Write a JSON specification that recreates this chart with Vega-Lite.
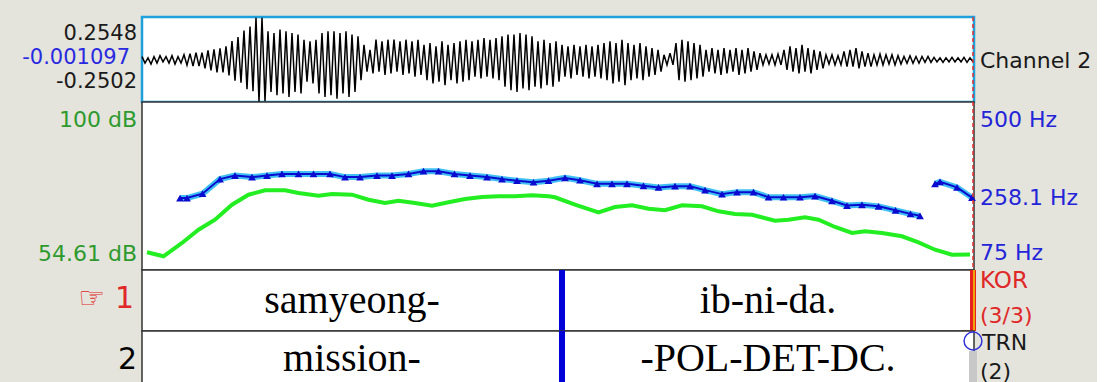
{
  "$schema": "https://vega.github.io/schema/vega-lite/v6.json",
  "background": "#e4e4dc",
  "padding": {"left": 20, "top": 13, "right": 4, "bottom": 0},
  "autosize": {"type": "pad"},
  "bounds": "flush",
  "spacing": 0,
  "config": {
    "view": {"fill": "white", "stroke": "#333333", "strokeWidth": 1.5},
    "text": {"font": "DejaVu Sans"}
  },
  "datasets": {
    "wave": [
      {"t":0,"a":0.019},{"t":0.006,"a":-0.019},{"t":0.012,"a":0.012},{"t":0.018,"a":-0.025},{"t":0.024,"a":0.019},{"t":0.03,"a":-0.019},{"t":0.036,"a":0.025},{"t":0.042,"a":-0.012},{"t":0.048,"a":0.019},{"t":0.054,"a":-0.019},
      {"t":0.06,"a":0.025},{"t":0.066,"a":-0.025},{"t":0.072,"a":0.019},{"t":0.078,"a":-0.019},{"t":0.084,"a":0.031},{"t":0.09,"a":-0.031},{"t":0.096,"a":0.037},{"t":0.102,"a":-0.037},{"t":0.108,"a":0.043},{"t":0.114,"a":-0.037},
      {"t":0.12,"a":0.043},{"t":0.126,"a":-0.05},{"t":0.132,"a":0.056},{"t":0.138,"a":-0.062},{"t":0.144,"a":0.062},{"t":0.15,"a":-0.074},{"t":0.156,"a":0.068},{"t":0.162,"a":-0.074},{"t":0.168,"a":0.081},{"t":0.174,"a":-0.093},
      {"t":0.18,"a":0.112},{"t":0.186,"a":-0.124},{"t":0.192,"a":0.136},{"t":0.198,"a":-0.136},{"t":0.204,"a":0.174},{"t":0.21,"a":-0.174},{"t":0.216,"a":0.198},{"t":0.222,"a":-0.186},{"t":0.228,"a":0.25},{"t":0.234,"a":-0.25},
      {"t":0.24,"a":0.25},{"t":0.246,"a":-0.245},{"t":0.252,"a":0.17},{"t":0.258,"a":-0.19},{"t":0.264,"a":0.16},{"t":0.27,"a":-0.21},{"t":0.276,"a":0.18},{"t":0.282,"a":-0.2},{"t":0.288,"a":0.17},{"t":0.294,"a":-0.22},
      {"t":0.3,"a":0.16},{"t":0.306,"a":-0.19},{"t":0.312,"a":0.15},{"t":0.318,"a":-0.2},{"t":0.324,"a":0.12},{"t":0.33,"a":-0.13},{"t":0.336,"a":0.11},{"t":0.342,"a":-0.14},{"t":0.348,"a":0.12},{"t":0.354,"a":-0.2},
      {"t":0.36,"a":0.16},{"t":0.366,"a":-0.22},{"t":0.372,"a":0.17},{"t":0.378,"a":-0.21},{"t":0.384,"a":0.17},{"t":0.39,"a":-0.23},{"t":0.396,"a":0.16},{"t":0.402,"a":-0.2},{"t":0.408,"a":0.17},{"t":0.414,"a":-0.22},
      {"t":0.42,"a":0.15},{"t":0.426,"a":-0.19},{"t":0.432,"a":0.14},{"t":0.438,"a":-0.12},{"t":0.444,"a":0.09},{"t":0.45,"a":-0.07},{"t":0.456,"a":0.06},{"t":0.462,"a":-0.08},{"t":0.468,"a":0.12},{"t":0.474,"a":-0.07},
      {"t":0.48,"a":0.11},{"t":0.486,"a":-0.09},{"t":0.492,"a":0.12},{"t":0.498,"a":-0.08},{"t":0.504,"a":0.12},{"t":0.51,"a":-0.07},{"t":0.516,"a":0.11},{"t":0.522,"a":-0.09},{"t":0.528,"a":0.12},{"t":0.534,"a":-0.08},
      {"t":0.54,"a":0.11},{"t":0.546,"a":-0.1},{"t":0.552,"a":0.12},{"t":0.558,"a":-0.09},{"t":0.564,"a":0.09},{"t":0.57,"a":-0.12},{"t":0.576,"a":0.1},{"t":0.582,"a":-0.14},{"t":0.588,"a":0.08},{"t":0.594,"a":-0.13},
      {"t":0.6,"a":0.11},{"t":0.606,"a":-0.15},{"t":0.612,"a":0.09},{"t":0.618,"a":-0.12},{"t":0.624,"a":0.1},{"t":0.63,"a":-0.14},{"t":0.636,"a":0.11},{"t":0.642,"a":-0.13},{"t":0.648,"a":0.12},{"t":0.654,"a":-0.12},
      {"t":0.66,"a":0.11},{"t":0.666,"a":-0.1},{"t":0.672,"a":0.12},{"t":0.678,"a":-0.11},{"t":0.684,"a":0.13},{"t":0.69,"a":-0.1},{"t":0.696,"a":0.12},{"t":0.702,"a":-0.11},{"t":0.708,"a":0.13},{"t":0.714,"a":-0.12},
      {"t":0.72,"a":0.14},{"t":0.726,"a":-0.16},{"t":0.732,"a":0.15},{"t":0.738,"a":-0.18},{"t":0.744,"a":0.15},{"t":0.75,"a":-0.19},{"t":0.756,"a":0.16},{"t":0.762,"a":-0.17},{"t":0.768,"a":0.15},{"t":0.774,"a":-0.18},
      {"t":0.78,"a":0.14},{"t":0.786,"a":-0.16},{"t":0.792,"a":0.11},{"t":0.798,"a":-0.17},{"t":0.804,"a":0.12},{"t":0.81,"a":-0.15},{"t":0.816,"a":0.1},{"t":0.822,"a":-0.16},{"t":0.828,"a":0.11},{"t":0.834,"a":-0.13},
      {"t":0.84,"a":0.09},{"t":0.846,"a":-0.1},{"t":0.852,"a":0.08},{"t":0.858,"a":-0.11},{"t":0.864,"a":0.09},{"t":0.87,"a":-0.09},{"t":0.876,"a":0.08},{"t":0.882,"a":-0.1},{"t":0.888,"a":0.09},{"t":0.894,"a":-0.11},
      {"t":0.9,"a":0.08},{"t":0.906,"a":-0.1},{"t":0.912,"a":0.09},{"t":0.918,"a":-0.11},{"t":0.924,"a":0.1},{"t":0.93,"a":-0.12},{"t":0.936,"a":0.11},{"t":0.942,"a":-0.14},{"t":0.948,"a":0.1},{"t":0.954,"a":-0.13},
      {"t":0.96,"a":0.12},{"t":0.966,"a":-0.15},{"t":0.972,"a":0.1},{"t":0.978,"a":-0.12},{"t":0.984,"a":0.09},{"t":0.99,"a":-0.11},{"t":0.996,"a":0.1},{"t":1.002,"a":-0.12},{"t":1.008,"a":0.08},{"t":1.014,"a":-0.1},
      {"t":1.02,"a":0.07},{"t":1.026,"a":-0.09},{"t":1.032,"a":0.06},{"t":1.038,"a":-0.07},{"t":1.044,"a":0.03},{"t":1.05,"a":-0.03},{"t":1.056,"a":0.04},{"t":1.062,"a":-0.03},{"t":1.068,"a":0.1},{"t":1.074,"a":-0.12},
      {"t":1.08,"a":0.12},{"t":1.086,"a":-0.13},{"t":1.092,"a":0.11},{"t":1.098,"a":-0.12},{"t":1.104,"a":0.1},{"t":1.11,"a":-0.11},{"t":1.116,"a":0.09},{"t":1.122,"a":-0.1},{"t":1.128,"a":0.06},{"t":1.134,"a":-0.07},
      {"t":1.14,"a":0.07},{"t":1.146,"a":-0.08},{"t":1.152,"a":0.06},{"t":1.158,"a":-0.09},{"t":1.164,"a":0.07},{"t":1.17,"a":-0.08},{"t":1.176,"a":0.06},{"t":1.182,"a":-0.07},{"t":1.188,"a":0.07},{"t":1.194,"a":-0.09},
      {"t":1.2,"a":0.06},{"t":1.206,"a":-0.08},{"t":1.212,"a":0.07},{"t":1.218,"a":-0.07},{"t":1.224,"a":0.05},{"t":1.23,"a":-0.06},{"t":1.236,"a":0.04},{"t":1.242,"a":-0.03},{"t":1.248,"a":0.03},{"t":1.254,"a":-0.025},
      {"t":1.26,"a":0.03},{"t":1.266,"a":-0.03},{"t":1.272,"a":0.035},{"t":1.278,"a":-0.03},{"t":1.284,"a":0.06},{"t":1.29,"a":-0.06},{"t":1.296,"a":0.08},{"t":1.302,"a":-0.07},{"t":1.308,"a":0.07},{"t":1.314,"a":-0.08},
      {"t":1.32,"a":0.09},{"t":1.326,"a":-0.07},{"t":1.332,"a":0.07},{"t":1.338,"a":-0.08},{"t":1.344,"a":0.06},{"t":1.35,"a":-0.06},{"t":1.356,"a":0.05},{"t":1.362,"a":-0.05},{"t":1.368,"a":0.03},{"t":1.374,"a":-0.025},
      {"t":1.38,"a":0.03},{"t":1.386,"a":-0.03},{"t":1.392,"a":0.025},{"t":1.398,"a":-0.03},{"t":1.404,"a":0.05},{"t":1.41,"a":-0.04},{"t":1.416,"a":0.06},{"t":1.422,"a":-0.04},{"t":1.428,"a":0.07},{"t":1.434,"a":-0.05},
      {"t":1.44,"a":0.05},{"t":1.446,"a":-0.04},{"t":1.452,"a":0.04},{"t":1.458,"a":-0.04},{"t":1.464,"a":0.03},{"t":1.47,"a":-0.03},{"t":1.476,"a":0.035},{"t":1.482,"a":-0.03},{"t":1.488,"a":0.03},{"t":1.494,"a":-0.025},
      {"t":1.5,"a":0.03},{"t":1.506,"a":-0.03},{"t":1.512,"a":0.025},{"t":1.518,"a":-0.025},{"t":1.524,"a":0.02},{"t":1.53,"a":-0.02},{"t":1.536,"a":0.025},{"t":1.542,"a":-0.02},{"t":1.548,"a":0.02},{"t":1.554,"a":-0.02},
      {"t":1.56,"a":0.02},{"t":1.566,"a":-0.015},{"t":1.572,"a":0.02},{"t":1.578,"a":-0.015},{"t":1.584,"a":0.015},{"t":1.59,"a":-0.012},{"t":1.596,"a":0.012},{"t":1.602,"a":-0.015},{"t":1.608,"a":0.012},{"t":1.614,"a":-0.012},
      {"t":1.62,"a":0.015},{"t":1.626,"a":-0.012},{"t":1.632,"a":0.012},{"t":1.638,"a":-0.012},{"t":1.644,"a":0.015},{"t":1.65,"a":-0.015},{"t":1.656,"a":0.012},{"t":1.662,"a":-0.012}
    ],
    "pitch": [
      {"t":0.076,"f0":257,"seg":1},{"t":0.09,"f0":257,"seg":1},{"t":0.121,"f0":268,"seg":1},{"t":0.156,"f0":305,"seg":1},{"t":0.186,"f0":314,"seg":1},
      {"t":0.22,"f0":310,"seg":1},{"t":0.25,"f0":314,"seg":1},{"t":0.28,"f0":318,"seg":1},{"t":0.313,"f0":318,"seg":1},{"t":0.343,"f0":318,"seg":1},
      {"t":0.376,"f0":318,"seg":1},{"t":0.406,"f0":310,"seg":1},{"t":0.436,"f0":310,"seg":1},{"t":0.47,"f0":314,"seg":1},{"t":0.5,"f0":314,"seg":1},
      {"t":0.533,"f0":318,"seg":1},{"t":0.563,"f0":325,"seg":1},{"t":0.593,"f0":325,"seg":1},{"t":0.625,"f0":318,"seg":1},{"t":0.656,"f0":314,"seg":1},
      {"t":0.69,"f0":310,"seg":1},{"t":0.72,"f0":305,"seg":1},{"t":0.75,"f0":301,"seg":1},{"t":0.783,"f0":297,"seg":1},{"t":0.813,"f0":301,"seg":1},
      {"t":0.846,"f0":308,"seg":1},{"t":0.876,"f0":302,"seg":1},{"t":0.91,"f0":293,"seg":1},{"t":0.94,"f0":293,"seg":1},{"t":0.97,"f0":293,"seg":1},
      {"t":1.003,"f0":288,"seg":1},{"t":1.033,"f0":284,"seg":1},{"t":1.066,"f0":287,"seg":1},{"t":1.096,"f0":287,"seg":1},{"t":1.126,"f0":277,"seg":1},
      {"t":1.16,"f0":267,"seg":1},{"t":1.19,"f0":272,"seg":1},{"t":1.223,"f0":272,"seg":1},{"t":1.253,"f0":259,"seg":1},{"t":1.283,"f0":259,"seg":1},
      {"t":1.316,"f0":259,"seg":1},{"t":1.346,"f0":262,"seg":1},{"t":1.38,"f0":250,"seg":1},{"t":1.41,"f0":238,"seg":1},{"t":1.44,"f0":240,"seg":1},
      {"t":1.473,"f0":236,"seg":1},{"t":1.507,"f0":226,"seg":1},{"t":1.537,"f0":217,"seg":1},{"t":1.556,"f0":212,"seg":1},
      {"t":1.586,"f0":293,"seg":2},{"t":1.596,"f0":298,"seg":2},{"t":1.63,"f0":284,"seg":2},{"t":1.66,"f0":258.1,"seg":2}
    ],
    "intensity": [
      {"t":0.01,"db":55.27},{"t":0.043,"db":54.08},{"t":0.08,"db":58.04},{"t":0.113,"db":62.0},{"t":0.146,"db":64.97},
      {"t":0.18,"db":69.43},{"t":0.213,"db":72.41},{"t":0.246,"db":73.72},{"t":0.286,"db":73.72},{"t":0.313,"db":72.92},
      {"t":0.353,"db":72.11},{"t":0.38,"db":72.62},{"t":0.42,"db":72.41},{"t":0.453,"db":70.92},{"t":0.486,"db":69.94},
      {"t":0.513,"db":70.62},{"t":0.546,"db":69.94},{"t":0.58,"db":69.14},{"t":0.613,"db":70.15},{"t":0.646,"db":71.13},
      {"t":0.68,"db":71.73},{"t":0.713,"db":71.93},{"t":0.746,"db":71.93},{"t":0.78,"db":72.23},{"t":0.813,"db":71.93},
      {"t":0.826,"db":71.64},{"t":0.866,"db":69.43},{"t":0.913,"db":67.17},{"t":0.946,"db":68.75},{"t":0.98,"db":69.25},
      {"t":1.013,"db":68.24},{"t":1.046,"db":67.77},{"t":1.08,"db":69.25},{"t":1.12,"db":68.96},{"t":1.153,"db":67.47},
      {"t":1.186,"db":66.67},{"t":1.22,"db":66.46},{"t":1.266,"db":64.67},{"t":1.293,"db":64.97},{"t":1.326,"db":65.68},
      {"t":1.353,"db":64.97},{"t":1.386,"db":62.8},{"t":1.42,"db":61.01},{"t":1.446,"db":61.52},{"t":1.48,"db":61.01},
      {"t":1.52,"db":60.03},{"t":1.553,"db":58.24},{"t":1.586,"db":56.04},{"t":1.62,"db":54.55},{"t":1.656,"db":54.61}
    ],
    "cursor": [{"t": 1.662}],
    "boundaries": [{"t": 0.84}]
  },
  "vconcat": [
    {
      "width": 832,
      "height": 85,
      "view": {"stroke": "#1ea0dc", "strokeWidth": 2.5},
      "layer": [
        {
          "data": {"name": "wave"},
          "mark": {"type": "line", "color": "#000000", "strokeWidth": 1.5},
          "encoding": {
            "x": {"field": "t", "type": "quantitative", "scale": {"domain": [0, 1.664], "nice": false, "zero": false}, "axis": null},
            "y": {"field": "a", "type": "quantitative", "scale": {"domain": [-0.2502, 0.2548], "nice": false, "zero": false}, "axis": null}
          }
        },
        {
          "data": {"name": "cursor"},
          "mark": {"type": "rule", "color": "#e03030", "strokeDash": [4, 3], "strokeWidth": 1.5},
          "encoding": {
            "x": {"field": "t", "type": "quantitative", "scale": {"domain": [0, 1.664], "nice": false, "zero": false}, "axis": null}
          }
        },
        {
          "data": {"values": [{"label": "0.2548", "v": 0.2548}]},
          "mark": {"type": "text", "align": "right", "baseline": "middle", "dx": -5, "dy": 17, "fontSize": 21, "color": "#1a1a1a"},
          "encoding": {
            "x": {"datum": 0, "type": "quantitative", "scale": {"domain": [0, 1.664], "nice": false, "zero": false}, "axis": null},
            "y": {"field": "v", "type": "quantitative", "scale": {"domain": [-0.2502, 0.2548], "nice": false, "zero": false}, "axis": null},
            "text": {"field": "label"}
          }
        },
        {
          "data": {"values": [{"label": "-0.001097", "v": -0.001097}]},
          "mark": {"type": "text", "align": "right", "baseline": "middle", "dx": -12, "dy": -2, "fontSize": 21, "color": "#2a2ae0"},
          "encoding": {
            "x": {"datum": 0, "type": "quantitative", "scale": {"domain": [0, 1.664], "nice": false, "zero": false}, "axis": null},
            "y": {"field": "v", "type": "quantitative", "scale": {"domain": [-0.2502, 0.2548], "nice": false, "zero": false}, "axis": null},
            "text": {"field": "label"}
          }
        },
        {
          "data": {"values": [{"label": "-0.2502", "v": -0.2502}]},
          "mark": {"type": "text", "align": "right", "baseline": "middle", "dx": -5, "dy": -20, "fontSize": 21, "color": "#1a1a1a"},
          "encoding": {
            "x": {"datum": 0, "type": "quantitative", "scale": {"domain": [0, 1.664], "nice": false, "zero": false}, "axis": null},
            "y": {"field": "v", "type": "quantitative", "scale": {"domain": [-0.2502, 0.2548], "nice": false, "zero": false}, "axis": null},
            "text": {"field": "label"}
          }
        },
        {
          "data": {"values": [{"label": "Channel 2"}]},
          "mark": {"type": "text", "align": "left", "baseline": "middle", "dx": 6, "dy": 1, "fontSize": 22, "color": "#1a1a1a"},
          "encoding": {
            "x": {"datum": 1.664, "type": "quantitative", "scale": {"domain": [0, 1.664], "nice": false, "zero": false}, "axis": null},
            "text": {"field": "label"}
          }
        }
      ]
    },
    {
      "width": 832,
      "height": 168,
      "resolve": {"scale": {"y": "independent"}},
      "layer": [
        {
          "data": {"name": "intensity"},
          "mark": {"type": "line", "color": "#22ee22", "strokeWidth": 4},
          "encoding": {
            "x": {"field": "t", "type": "quantitative", "scale": {"domain": [0, 1.664], "nice": false, "zero": false}, "axis": null},
            "y": {"field": "db", "type": "quantitative", "scale": {"domain": [50, 100], "nice": false, "zero": false}, "axis": null}
          }
        },
        {
          "data": {"name": "pitch"},
          "mark": {"type": "line", "color": "#40c0f2", "strokeWidth": 6},
          "encoding": {
            "x": {"field": "t", "type": "quantitative", "scale": {"domain": [0, 1.664], "nice": false, "zero": false}, "axis": null},
            "y": {"field": "f0", "type": "quantitative", "scale": {"domain": [75, 500], "nice": false, "zero": false}, "axis": null},
            "detail": {"field": "seg", "type": "nominal"}
          }
        },
        {
          "data": {"name": "pitch"},
          "mark": {"type": "line", "color": "#0a0ad0", "strokeWidth": 2},
          "encoding": {
            "x": {"field": "t", "type": "quantitative", "scale": {"domain": [0, 1.664], "nice": false, "zero": false}, "axis": null},
            "y": {"field": "f0", "type": "quantitative", "scale": {"domain": [75, 500], "nice": false, "zero": false}, "axis": null},
            "detail": {"field": "seg", "type": "nominal"}
          }
        },
        {
          "data": {"name": "pitch"},
          "mark": {"type": "point", "shape": "triangle-up", "filled": true, "color": "#0a0ad0", "size": 60, "opacity": 1},
          "encoding": {
            "x": {"field": "t", "type": "quantitative", "scale": {"domain": [0, 1.664], "nice": false, "zero": false}, "axis": null},
            "y": {"field": "f0", "type": "quantitative", "scale": {"domain": [75, 500], "nice": false, "zero": false}, "axis": null}
          }
        },
        {
          "data": {"name": "cursor"},
          "mark": {"type": "rule", "color": "#e03030", "strokeDash": [4, 3], "strokeWidth": 1.5},
          "encoding": {
            "x": {"field": "t", "type": "quantitative", "scale": {"domain": [0, 1.664], "nice": false, "zero": false}, "axis": null}
          }
        },
        {
          "data": {"values": [{"label": "100 dB", "v": 100}]},
          "mark": {"type": "text", "align": "right", "baseline": "middle", "dx": -5, "dy": 18, "fontSize": 22, "color": "#2e9a2e"},
          "encoding": {
            "x": {"datum": 0, "type": "quantitative", "scale": {"domain": [0, 1.664], "nice": false, "zero": false}, "axis": null},
            "y": {"field": "v", "type": "quantitative", "scale": {"domain": [50, 100], "nice": false, "zero": false}, "axis": null},
            "text": {"field": "label"}
          }
        },
        {
          "data": {"values": [{"label": "54.61 dB", "v": 54.61}]},
          "mark": {"type": "text", "align": "right", "baseline": "middle", "dx": -5, "dy": -1, "fontSize": 22, "color": "#2e9a2e"},
          "encoding": {
            "x": {"datum": 0, "type": "quantitative", "scale": {"domain": [0, 1.664], "nice": false, "zero": false}, "axis": null},
            "y": {"field": "v", "type": "quantitative", "scale": {"domain": [50, 100], "nice": false, "zero": false}, "axis": null},
            "text": {"field": "label"}
          }
        },
        {
          "data": {"values": [{"label": "500 Hz", "v": 500}]},
          "mark": {"type": "text", "align": "left", "baseline": "middle", "dx": 6, "dy": 18, "fontSize": 22, "color": "#2424d8"},
          "encoding": {
            "x": {"datum": 1.664, "type": "quantitative", "scale": {"domain": [0, 1.664], "nice": false, "zero": false}, "axis": null},
            "y": {"field": "v", "type": "quantitative", "scale": {"domain": [75, 500], "nice": false, "zero": false}, "axis": null},
            "text": {"field": "label"}
          }
        },
        {
          "data": {"values": [{"label": "258.1 Hz", "v": 258.1}]},
          "mark": {"type": "text", "align": "left", "baseline": "middle", "dx": 6, "dy": 0, "fontSize": 22, "color": "#2424d8"},
          "encoding": {
            "x": {"datum": 1.664, "type": "quantitative", "scale": {"domain": [0, 1.664], "nice": false, "zero": false}, "axis": null},
            "y": {"field": "v", "type": "quantitative", "scale": {"domain": [75, 500], "nice": false, "zero": false}, "axis": null},
            "text": {"field": "label"}
          }
        },
        {
          "data": {"values": [{"label": "75 Hz", "v": 75}]},
          "mark": {"type": "text", "align": "left", "baseline": "middle", "dx": 6, "dy": -17, "fontSize": 22, "color": "#2424d8"},
          "encoding": {
            "x": {"datum": 1.664, "type": "quantitative", "scale": {"domain": [0, 1.664], "nice": false, "zero": false}, "axis": null},
            "y": {"field": "v", "type": "quantitative", "scale": {"domain": [75, 500], "nice": false, "zero": false}, "axis": null},
            "text": {"field": "label"}
          }
        }
      ]
    },
    {
      "width": 832,
      "height": 61,
      "layer": [
        {
          "data": {"values": [
            {"xmin": 0, "xmax": 0.84, "text": "samyeong-"},
            {"xmin": 0.84, "xmax": 1.664, "text": "ib-ni-da."}
          ]},
          "transform": [{"calculate": "(datum.xmin + datum.xmax) / 2", "as": "mid"}],
          "mark": {"type": "text", "font": "Liberation Serif", "fontSize": 40, "baseline": "alphabetic", "align": "center", "dy": 12.5, "color": "#000000"},
          "encoding": {
            "x": {"field": "mid", "type": "quantitative", "scale": {"domain": [0, 1.664], "nice": false, "zero": false}, "axis": null},
            "text": {"field": "text"}
          }
        },
        {
          "data": {"name": "boundaries"},
          "mark": {"type": "rule", "color": "#0000d8", "strokeWidth": 6},
          "encoding": {
            "x": {"field": "t", "type": "quantitative", "scale": {"domain": [0, 1.664], "nice": false, "zero": false}, "axis": null}
          }
        },
        {
          "data": {"name": "cursor"},
          "mark": {"type": "rule", "color": "#e82020", "strokeWidth": 6},
          "encoding": {
            "x": {"field": "t", "type": "quantitative", "scale": {"domain": [0, 1.664], "nice": false, "zero": false}, "axis": null}
          }
        },
        {
          "data": {"name": "cursor"},
          "mark": {"type": "rule", "color": "#f2d000", "strokeWidth": 1.5, "xOffset": 1},
          "encoding": {
            "x": {"field": "t", "type": "quantitative", "scale": {"domain": [0, 1.664], "nice": false, "zero": false}, "axis": null}
          }
        },
        {
          "data": {"values": [{"label": "☞ 1"}]},
          "mark": {"type": "text", "align": "right", "baseline": "middle", "dx": -8, "dy": -2, "fontSize": 30, "color": "#e02828"},
          "encoding": {
            "x": {"datum": 0, "type": "quantitative", "scale": {"domain": [0, 1.664], "nice": false, "zero": false}, "axis": null},
            "text": {"field": "label"}
          }
        },
        {
          "data": {"values": [{"label": "KOR"}]},
          "mark": {"type": "text", "align": "left", "baseline": "middle", "dx": 6, "dy": -19.5, "fontSize": 23, "color": "#e02828"},
          "encoding": {
            "x": {"datum": 1.664, "type": "quantitative", "scale": {"domain": [0, 1.664], "nice": false, "zero": false}, "axis": null},
            "text": {"field": "label"}
          }
        },
        {
          "data": {"values": [{"label": "(3/3)"}]},
          "mark": {"type": "text", "align": "left", "baseline": "middle", "dx": 6, "dy": 15, "fontSize": 22, "color": "#e02828"},
          "encoding": {
            "x": {"datum": 1.664, "type": "quantitative", "scale": {"domain": [0, 1.664], "nice": false, "zero": false}, "axis": null},
            "text": {"field": "label"}
          }
        }
      ]
    },
    {
      "width": 832,
      "height": 54,
      "layer": [
        {
          "data": {"values": [
            {"xmin": 0, "xmax": 0.84, "text": "mission-"},
            {"xmin": 0.84, "xmax": 1.664, "text": "-POL-DET-DC."}
          ]},
          "transform": [{"calculate": "(datum.xmin + datum.xmax) / 2", "as": "mid"}],
          "mark": {"type": "text", "font": "Liberation Serif", "fontSize": 40, "baseline": "alphabetic", "align": "center", "dy": 13, "color": "#000000"},
          "encoding": {
            "x": {"field": "mid", "type": "quantitative", "scale": {"domain": [0, 1.664], "nice": false, "zero": false}, "axis": null},
            "text": {"field": "text"}
          }
        },
        {
          "data": {"name": "boundaries"},
          "mark": {"type": "rule", "color": "#0000d8", "strokeWidth": 6},
          "encoding": {
            "x": {"field": "t", "type": "quantitative", "scale": {"domain": [0, 1.664], "nice": false, "zero": false}, "axis": null}
          }
        },
        {
          "data": {"name": "cursor"},
          "mark": {"type": "rule", "color": "#c8c8c8", "strokeWidth": 8},
          "encoding": {
            "x": {"field": "t", "type": "quantitative", "scale": {"domain": [0, 1.664], "nice": false, "zero": false}, "axis": null},
            "y": {"datum": 0, "type": "quantitative", "scale": {"domain": [0, 1], "nice": false, "zero": false}, "axis": null},
            "y2": {"datum": 0.63}
          }
        },
        {
          "data": {"name": "cursor"},
          "mark": {"type": "point", "shape": "circle", "filled": false, "color": "#3333dd", "strokeWidth": 1.5, "size": 320, "opacity": 1},
          "encoding": {
            "x": {"field": "t", "type": "quantitative", "scale": {"domain": [0, 1.664], "nice": false, "zero": false}, "axis": null},
            "y": {"datum": 0.815, "type": "quantitative", "scale": {"domain": [0, 1], "nice": false, "zero": false}, "axis": null}
          }
        },
        {
          "data": {"values": [{"label": "2"}]},
          "mark": {"type": "text", "align": "right", "baseline": "middle", "dx": -5, "dy": 2, "fontSize": 30, "color": "#000000"},
          "encoding": {
            "x": {"datum": 0, "type": "quantitative", "scale": {"domain": [0, 1.664], "nice": false, "zero": false}, "axis": null},
            "text": {"field": "label"}
          }
        },
        {
          "data": {"values": [{"label": "TRN"}]},
          "mark": {"type": "text", "align": "left", "baseline": "middle", "dx": 8, "dy": -15, "fontSize": 22, "color": "#1a1a1a"},
          "encoding": {
            "x": {"datum": 1.664, "type": "quantitative", "scale": {"domain": [0, 1.664], "nice": false, "zero": false}, "axis": null},
            "text": {"field": "label"}
          }
        },
        {
          "data": {"values": [{"label": "(2)"}]},
          "mark": {"type": "text", "align": "left", "baseline": "middle", "dx": 6, "dy": 14, "fontSize": 22, "color": "#1a1a1a"},
          "encoding": {
            "x": {"datum": 1.664, "type": "quantitative", "scale": {"domain": [0, 1.664], "nice": false, "zero": false}, "axis": null},
            "text": {"field": "label"}
          }
        }
      ]
    }
  ]
}
